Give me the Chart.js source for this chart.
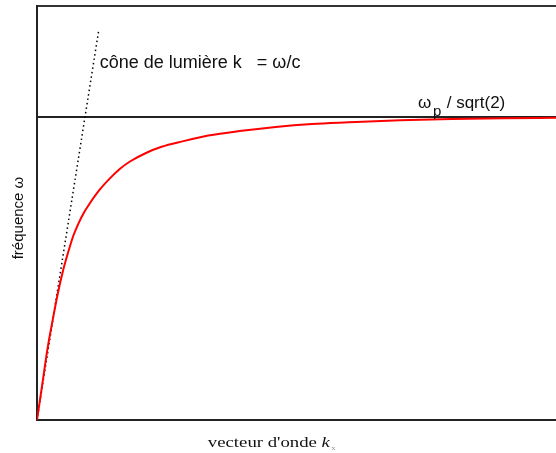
<!DOCTYPE html>
<html>
<head>
<meta charset="utf-8">
<script src="https://cdn.jsdelivr.net/npm/chart.js@4.4.0/dist/chart.umd.min.js"></script>
<style>
  html, body { margin: 0; padding: 0; background: #fff; }
  #wrap { width: 556px; height: 453px; position: relative; }
</style>
</head>
<body>
<div id="wrap"><canvas id="dispersion"></canvas></div>
<script>
// Surface plasmon dispersion, arbitrary units (0..100 on both axes)
const kValues = [0, 1, 2, 3, 4, 5, 6, 7, 8, 9, 10, 12, 14, 16, 18, 21, 24, 28, 33, 39, 46, 53, 60, 70, 80, 90, 100];
const omegaValues = [0, 8.5, 17, 24, 30.5, 36, 40.5, 44.5, 47.5, 50, 52, 55.5, 58.3, 60.7, 62.5, 64.5, 66, 67.3, 68.7, 69.8, 70.8, 71.5, 71.9, 72.4, 72.7, 72.9, 73.0];

// light line k = omega/c
const lightK = [0, 11.9];
const lightOmega = [0, 94.2];

// asymptote omega_p / sqrt(2)
const asymptoteOmega = 73.2;
const kRange = [0, 100];
const omegaRange = [0, 100];

const toPoints = (xs, ys) => xs.map((x, i) => ({ x: x, y: ys[i] }));

const SANS = '"Liberation Sans", Arial, sans-serif';
const SERIF = '"Liberation Serif", "Times New Roman", serif';

// draws the free text labels and axis titles
const labelsPlugin = {
  id: 'labels',
  afterDraw(chart) {
    const { ctx, chartArea, scales } = chart;
    const x = scales.x, y = scales.y;
    ctx.save();
    ctx.fillStyle = '#111';
    ctx.textBaseline = 'middle';
    ctx.textAlign = 'left';

    // light cone label
    ctx.font = '18px ' + SANS;
    const lx = x.getPixelForValue(lightK[1]) + 1;
    ctx.fillText('cône de lumière k   = ω/c', lx, 63);

    // asymptote label
    const ay = y.getPixelForValue(asymptoteOmega);
    ctx.font = '17px ' + SANS;
    ctx.fillText('ω', 418, ay - 14);
    ctx.font = '15px ' + SANS;
    ctx.fillText('p', 433, ay - 5);
    ctx.font = '17px ' + SANS;
    ctx.fillText(' / sqrt(2)', 442, ay - 14);

    // y axis title
    ctx.save();
    ctx.translate(19, 218);
    ctx.rotate(-Math.PI / 2);
    ctx.textAlign = 'center';
    ctx.font = '15px ' + SANS;
    ctx.fillText('fréquence ω', 0, 0);
    ctx.restore();

    // x axis title, stretched serif
    ctx.save();
    const sx = 1.25;
    ctx.font = '15px ' + SERIF;
    const t1 = 'vecteur d\'onde ';
    const w1 = ctx.measureText(t1).width;
    ctx.font = 'italic 15px ' + SERIF;
    const w2 = ctx.measureText('k').width;
    const total = (w1 + w2 + 5) * sx;
    ctx.translate(272 - total / 2, chartArea.bottom + 23);
    ctx.scale(sx, 1);
    ctx.font = '15px ' + SERIF;
    ctx.fillText(t1, 0, 0);
    ctx.font = 'italic 15px ' + SERIF;
    ctx.fillText('k', w1, 0);
    ctx.font = '7px ' + SERIF;
    ctx.fillStyle = '#999';
    ctx.fillText('x', w1 + w2 + 1, 5);
    ctx.restore();

    ctx.restore();
  }
};

new Chart(document.getElementById('dispersion'), {
  type: 'line',
  data: {
    datasets: [
      {
        label: 'plasmon',
        data: toPoints(kValues, omegaValues),
        borderColor: '#ff0000',
        borderWidth: 2,
        pointRadius: 0,
        cubicInterpolationMode: 'monotone',
        fill: false
      },
      {
        label: 'light',
        data: toPoints(lightK, lightOmega),
        borderColor: '#000',
        borderWidth: 1.5,
        borderDash: [1.5, 3],
        pointRadius: 0,
        fill: false
      },
      {
        label: 'asymptote',
        data: toPoints(kRange, [asymptoteOmega, asymptoteOmega]),
        borderColor: '#222',
        borderWidth: 2,
        pointRadius: 0,
        fill: false
      }
    ]
  },
  options: {
    responsive: true,
    maintainAspectRatio: false,
    animation: false,
    layout: { padding: 0 },
    plugins: {
      legend: { display: false },
      tooltip: { enabled: false }
    },
    scales: {
      x: {
        type: 'linear',
        min: kRange[0],
        max: kRange[1],
        grid: { display: false, drawTicks: false },
        ticks: { display: false },
        border: { display: true, color: '#222', width: 2 },
        afterFit: s => { s.height = 33; }
      },
      xTop: {
        type: 'linear',
        position: 'top',
        min: kRange[0],
        max: kRange[1],
        grid: { display: false, drawTicks: false },
        ticks: { display: false },
        border: { display: true, color: '#333', width: 2 },
        afterFit: s => { s.height = 6; }
      },
      y: {
        type: 'linear',
        min: omegaRange[0],
        max: omegaRange[1],
        grid: { display: false, drawTicks: false },
        ticks: { display: false },
        border: { display: true, color: '#222', width: 2 },
        afterFit: s => { s.width = 37; }
      }
    }
  },
  plugins: [labelsPlugin]
});
</script>
</body>
</html>
